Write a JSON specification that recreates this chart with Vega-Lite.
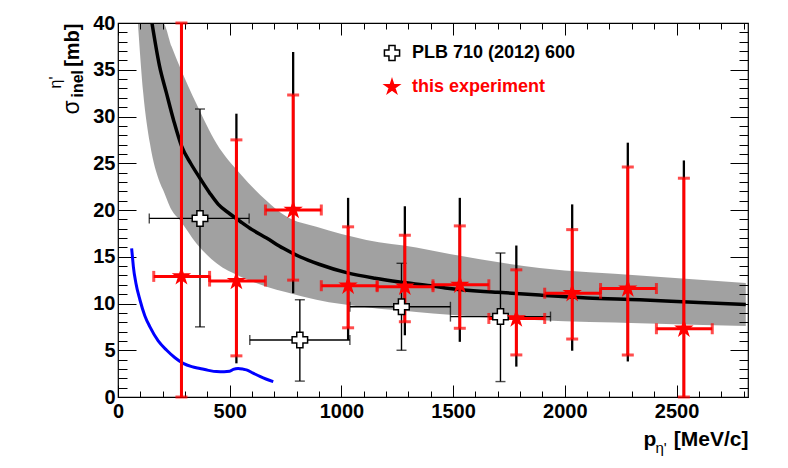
{
  "$schema": "https://vega.github.io/schema/vega-lite/v6.json",
  "width": 630,
  "height": 374,
  "autosize": {"type": "none"},
  "padding": {"left": 118, "top": 23, "right": 40, "bottom": 71},
  "background": "white",
  "config": {
    "view": {"stroke": "#000000", "strokeWidth": 1.2},
    "font": "Liberation Sans",
    "axis": {"grid": false, "domain": false, "labelFont": "Liberation Sans", "titleFont": "Liberation Sans", "tickColor": "#000000", "labelColor": "#000000", "titleColor": "#000000", "tickWidth": 1}
  },
  "datasets": {
    "band": [
      {"p": 89, "lo": 40, "hi": 40},
      {"p": 113, "lo": 32.5, "hi": 40},
      {"p": 143, "lo": 27.1, "hi": 40},
      {"p": 188, "lo": 22.9, "hi": 40},
      {"p": 201, "lo": 22.2, "hi": 40},
      {"p": 240, "lo": 20.0, "hi": 37.5},
      {"p": 277, "lo": 18.9, "hi": 35.3},
      {"p": 352, "lo": 16.4, "hi": 31.3},
      {"p": 441, "lo": 14.3, "hi": 27.1},
      {"p": 546, "lo": 12.9, "hi": 23.9},
      {"p": 665, "lo": 11.8, "hi": 21.0},
      {"p": 754, "lo": 11.2, "hi": 19.3},
      {"p": 888, "lo": 10.4, "hi": 18.2},
      {"p": 1112, "lo": 9.6, "hi": 16.8},
      {"p": 1335, "lo": 9.1, "hi": 16.0},
      {"p": 1485, "lo": 8.8, "hi": 15.3},
      {"p": 1887, "lo": 8.2, "hi": 13.8},
      {"p": 2335, "lo": 7.9, "hi": 13.0},
      {"p": 2810, "lo": 7.6, "hi": 12.2}
    ],
    "fit": [
      {"p": 152, "s": 40}, {"p": 185, "s": 35.5}, {"p": 217, "s": 32.5}, {"p": 250, "s": 29.5},
      {"p": 285, "s": 26.8}, {"p": 325, "s": 25.0}, {"p": 367, "s": 23.4}, {"p": 411, "s": 21.8},
      {"p": 449, "s": 20.6}, {"p": 500, "s": 19.6}, {"p": 546, "s": 18.8}, {"p": 600, "s": 17.9},
      {"p": 665, "s": 17.0}, {"p": 740, "s": 15.9}, {"p": 814, "s": 15.0}, {"p": 900, "s": 14.2},
      {"p": 1023, "s": 13.3}, {"p": 1150, "s": 12.7}, {"p": 1261, "s": 12.3}, {"p": 1400, "s": 11.9},
      {"p": 1485, "s": 11.6}, {"p": 1700, "s": 11.2}, {"p": 1887, "s": 10.9}, {"p": 2100, "s": 10.6},
      {"p": 2335, "s": 10.4}, {"p": 2600, "s": 10.1}, {"p": 2810, "s": 9.9}
    ],
    "blue": [
      {"p": 61, "s": 15.9}, {"p": 65, "s": 14.9}, {"p": 69, "s": 13.9}, {"p": 80, "s": 12.2},
      {"p": 98, "s": 10.4}, {"p": 120, "s": 8.7}, {"p": 143, "s": 7.5}, {"p": 180, "s": 6.0},
      {"p": 218, "s": 5.0}, {"p": 255, "s": 4.2}, {"p": 292, "s": 3.6}, {"p": 330, "s": 3.25},
      {"p": 367, "s": 3.05}, {"p": 405, "s": 2.85}, {"p": 441, "s": 2.72}, {"p": 475, "s": 2.7},
      {"p": 500, "s": 2.75}, {"p": 516, "s": 2.95}, {"p": 538, "s": 3.05}, {"p": 560, "s": 2.98},
      {"p": 575, "s": 2.9}, {"p": 605, "s": 2.55}, {"p": 635, "s": 2.2}, {"p": 665, "s": 1.9},
      {"p": 695, "s": 1.65}
    ],
    "pts": [
      {"series": "PLB 710 (2012) 600", "p": 367, "s": 19.1, "xlo": 140, "xhi": 587, "slo": 7.5, "shi": 30.8},
      {"series": "PLB 710 (2012) 600", "p": 814, "s": 6.1, "xlo": 590, "xhi": 1038, "slo": 1.7, "shi": 10.4},
      {"series": "PLB 710 (2012) 600", "p": 1269, "s": 9.65, "xlo": 1038, "xhi": 1488, "slo": 5.0, "shi": 14.3},
      {"series": "PLB 710 (2012) 600", "p": 1712, "s": 8.6, "xlo": 1488, "xhi": 1936, "slo": 1.65, "shi": 15.4},
      {"series": "this experiment", "p": 284, "s": 12.9, "xlo": 160, "xhi": 410, "slo": 0, "shi": 40, "tlo": 0, "thi": 40},
      {"series": "this experiment", "p": 530, "s": 12.4, "xlo": 410, "xhi": 660, "slo": 4.4, "shi": 27.5, "tlo": 3.6, "thi": 30.3},
      {"series": "this experiment", "p": 784, "s": 20.0, "xlo": 660, "xhi": 910, "slo": 12.5, "shi": 32.3, "tlo": 11.1, "thi": 36.9},
      {"series": "this experiment", "p": 1030, "s": 11.9, "xlo": 910, "xhi": 1160, "slo": 7.4, "shi": 18.2, "tlo": 6.1, "thi": 21.3},
      {"series": "this experiment", "p": 1284, "s": 11.8, "xlo": 1160, "xhi": 1410, "slo": 8.05, "shi": 17.3, "tlo": 6.6, "thi": 20.4},
      {"series": "this experiment", "p": 1530, "s": 12.0, "xlo": 1410, "xhi": 1660, "slo": 7.35, "shi": 18.3, "tlo": 5.9, "thi": 21.3},
      {"series": "this experiment", "p": 1783, "s": 8.4, "xlo": 1660, "xhi": 1910, "slo": 4.5, "shi": 13.6, "tlo": 3.25, "thi": 16.2},
      {"series": "this experiment", "p": 2033, "s": 11.1, "xlo": 1910, "xhi": 2160, "slo": 6.2, "shi": 17.9, "tlo": 4.95, "thi": 20.6},
      {"series": "this experiment", "p": 2282, "s": 11.6, "xlo": 2160, "xhi": 2410, "slo": 4.5, "shi": 24.6, "tlo": 3.8, "thi": 27.2},
      {"series": "this experiment", "p": 2533, "s": 7.3, "xlo": 2410, "xhi": 2660, "slo": 0, "shi": 23.4, "tlo": 0, "thi": 25.3}
    ]
  },
  "resolve": {"axis": {"x": "independent", "y": "independent"}},
  "layer": [
    {
      "data": {"name": "band"},
      "mark": {"type": "area", "fill": "#000000", "fillOpacity": 0.37, "clip": true, "interpolate": "monotone"},
      "encoding": {
        "x": {"field": "p", "type": "quantitative", "scale": {"domain": [0, 2820], "nice": false, "zero": false},
          "axis": {"orient": "bottom", "values": [0, 500, 1000, 1500, 2000, 2500], "format": "d", "ticks": false, "labelFontSize": 20, "labelFontWeight": "bold", "labelPadding": 4, "labelOverlap": false, "labelFlush": false, "labelBound": false,
            "title": "p", "titleFontSize": 21, "titleFontWeight": "bold", "titleAlign": "left", "titleBaseline": "alphabetic", "titleX": 525, "titleY": 48}},
        "y": {"field": "lo", "type": "quantitative", "scale": {"domain": [0, 40], "nice": false, "zero": false},
          "axis": {"orient": "left", "values": [0, 5, 10, 15, 20, 25, 30, 35, 40], "format": "d", "ticks": false, "labelFontSize": 20, "labelFontWeight": "bold", "labelPadding": 3, "labelOverlap": false, "labelFlush": false, "labelBound": false,
            "title": "σ", "titleFontSize": 23, "titleFontWeight": "normal", "titleAlign": "left", "titleBaseline": "alphabetic", "titleAngle": -90, "titleX": -40, "titleY": 91}},
        "y2": {"field": "hi"}
      }
    },
    {
      "data": {"name": "blue"},
      "mark": {"type": "line", "color": "#0000ff", "strokeWidth": 3, "interpolate": "monotone"},
      "encoding": {
        "x": {"field": "p", "type": "quantitative", "scale": {"domain": [0, 2820], "nice": false, "zero": false},
          "axis": {"orient": "bottom", "values": [0, 100, 200, 300, 400, 500, 600, 700, 800, 900, 1000, 1100, 1200, 1300, 1400, 1500, 1600, 1700, 1800, 1900, 2000, 2100, 2200, 2300, 2400, 2500, 2600, 2700, 2800], "labels": false, "title": null,
            "tickSize": {"condition": {"test": "datum.value % 500 === 0", "value": -12}, "value": -6}}},
        "y": {"field": "s", "type": "quantitative", "scale": {"domain": [0, 40], "nice": false, "zero": false},
          "axis": {"orient": "left", "values": [0, 1, 2, 3, 4, 5, 6, 7, 8, 9, 10, 11, 12, 13, 14, 15, 16, 17, 18, 19, 20, 21, 22, 23, 24, 25, 26, 27, 28, 29, 30, 31, 32, 33, 34, 35, 36, 37, 38, 39, 40], "labels": false, "title": null,
            "tickSize": {"condition": {"test": "datum.value % 5 === 0", "value": -18}, "value": -9}}}
      }
    },
    {
      "data": {"name": "pts"},
      "transform": [{"filter": "datum.series === 'this experiment'"}],
      "mark": {"type": "rule", "color": "#000000", "strokeWidth": 2.3},
      "encoding": {
        "x": {"field": "p", "type": "quantitative", "scale": {"domain": [0, 2820], "nice": false, "zero": false},
          "axis": {"orient": "top", "values": [0, 100, 200, 300, 400, 500, 600, 700, 800, 900, 1000, 1100, 1200, 1300, 1400, 1500, 1600, 1700, 1800, 1900, 2000, 2100, 2200, 2300, 2400, 2500, 2600, 2700, 2800], "labels": false, "title": null,
            "tickSize": {"condition": {"test": "datum.value % 500 === 0", "value": -12}, "value": -6}}},
        "y": {"field": "tlo", "type": "quantitative", "scale": {"domain": [0, 40], "nice": false, "zero": false},
          "axis": {"orient": "right", "values": [0, 1, 2, 3, 4, 5, 6, 7, 8, 9, 10, 11, 12, 13, 14, 15, 16, 17, 18, 19, 20, 21, 22, 23, 24, 25, 26, 27, 28, 29, 30, 31, 32, 33, 34, 35, 36, 37, 38, 39, 40], "labels": false, "title": null,
            "tickSize": {"condition": {"test": "datum.value % 5 === 0", "value": -18}, "value": -9}}},
        "y2": {"field": "thi"}
      }
    },
    {
      "data": {"name": "pts"},
      "transform": [{"filter": "datum.series !== 'this experiment'"}],
      "mark": {"type": "rule", "color": "#000000", "strokeWidth": 1.4},
      "encoding": {
        "x": {"field": "p", "type": "quantitative", "scale": {"domain": [0, 2820], "nice": false, "zero": false},
          "axis": {"orient": "bottom", "ticks": false, "labels": false,
            "title": "η'", "titleFontSize": 15, "titleFontWeight": "normal", "titleAlign": "left", "titleBaseline": "alphabetic", "titleX": 537, "titleY": 55}},
        "y": {"field": "slo", "type": "quantitative", "scale": {"domain": [0, 40], "nice": false, "zero": false},
          "axis": {"orient": "left", "ticks": false, "labels": false,
            "title": "inel", "titleFontSize": 16, "titleFontWeight": "bold", "titleAlign": "left", "titleBaseline": "alphabetic", "titleAngle": -90, "titleX": -36, "titleY": 74}},
        "y2": {"field": "shi"}
      }
    },
    {
      "data": {"name": "pts"},
      "transform": [{"filter": "datum.series !== 'this experiment'"}],
      "mark": {"type": "rule", "color": "#000000", "strokeWidth": 1.4},
      "encoding": {
        "x": {"field": "xlo", "type": "quantitative", "scale": {"domain": [0, 2820], "nice": false, "zero": false},
          "axis": {"orient": "bottom", "ticks": false, "labels": false,
            "title": "[MeV/c]", "titleFontSize": 21, "titleFontWeight": "bold", "titleAlign": "right", "titleBaseline": "alphabetic", "titleX": 630, "titleY": 48}},
        "x2": {"field": "xhi"},
        "y": {"field": "s", "type": "quantitative", "scale": {"domain": [0, 40], "nice": false, "zero": false},
          "axis": {"orient": "left", "ticks": false, "labels": false,
            "title": "η'", "titleFontSize": 16, "titleFontWeight": "normal", "titleAlign": "left", "titleBaseline": "alphabetic", "titleAngle": -90, "titleX": -58, "titleY": 65}}
      }
    },
    {
      "data": {"name": "pts"},
      "transform": [{"filter": "datum.series !== 'this experiment'"}, {"fold": ["slo", "shi"], "as": ["end", "v"]}],
      "mark": {"type": "tick", "orient": "horizontal", "color": "#000000", "size": 10, "thickness": 1.4},
      "encoding": {
        "x": {"field": "p", "type": "quantitative", "scale": {"domain": [0, 2820], "nice": false, "zero": false}, "axis": null},
        "y": {"field": "v", "type": "quantitative", "scale": {"domain": [0, 40], "nice": false, "zero": false},
          "axis": {"orient": "left", "ticks": false, "labels": false,
            "title": "[mb]", "titleFontSize": 20, "titleFontWeight": "bold", "titleAlign": "right", "titleBaseline": "alphabetic", "titleAngle": -90, "titleX": -40, "titleY": 0}}
      }
    },
    {
      "data": {"name": "pts"},
      "transform": [{"filter": "datum.series !== 'this experiment'"}, {"fold": ["xlo", "xhi"], "as": ["end", "v"]}],
      "mark": {"type": "tick", "orient": "vertical", "color": "#000000", "size": 10, "thickness": 1.4},
      "encoding": {
        "x": {"field": "v", "type": "quantitative", "scale": {"domain": [0, 2820], "nice": false, "zero": false}, "axis": null},
        "y": {"field": "s", "type": "quantitative", "scale": {"domain": [0, 40], "nice": false, "zero": false}, "axis": null}
      }
    },
    {
      "data": {"name": "fit"},
      "mark": {"type": "line", "color": "#000000", "strokeWidth": 3.5, "clip": true, "interpolate": "monotone"},
      "encoding": {
        "x": {"field": "p", "type": "quantitative", "scale": {"domain": [0, 2820], "nice": false, "zero": false}, "axis": null},
        "y": {"field": "s", "type": "quantitative", "scale": {"domain": [0, 40], "nice": false, "zero": false}, "axis": null}
      }
    },
    {
      "data": {"name": "pts"},
      "transform": [{"filter": "datum.series === 'this experiment'"}],
      "mark": {"type": "rule", "color": "#ff0000", "strokeWidth": 3},
      "encoding": {
        "x": {"field": "p", "type": "quantitative", "scale": {"domain": [0, 2820], "nice": false, "zero": false}, "axis": null},
        "y": {"field": "slo", "type": "quantitative", "scale": {"domain": [0, 40], "nice": false, "zero": false}, "axis": null},
        "y2": {"field": "shi"}
      }
    },
    {
      "data": {"name": "pts"},
      "transform": [{"filter": "datum.series === 'this experiment'"}],
      "mark": {"type": "rule", "color": "#ff0000", "strokeWidth": 3},
      "encoding": {
        "x": {"field": "xlo", "type": "quantitative", "scale": {"domain": [0, 2820], "nice": false, "zero": false}, "axis": null},
        "x2": {"field": "xhi"},
        "y": {"field": "s", "type": "quantitative", "scale": {"domain": [0, 40], "nice": false, "zero": false}, "axis": null}
      }
    },
    {
      "data": {"name": "pts"},
      "transform": [{"filter": "datum.series === 'this experiment'"}, {"fold": ["slo", "shi"], "as": ["end", "v"]}],
      "mark": {"type": "tick", "orient": "horizontal", "color": "#ff0000", "size": 12, "thickness": 3},
      "encoding": {
        "x": {"field": "p", "type": "quantitative", "scale": {"domain": [0, 2820], "nice": false, "zero": false}, "axis": null},
        "y": {"field": "v", "type": "quantitative", "scale": {"domain": [0, 40], "nice": false, "zero": false}, "axis": null}
      }
    },
    {
      "data": {"name": "pts"},
      "transform": [{"filter": "datum.series === 'this experiment'"}, {"fold": ["xlo", "xhi"], "as": ["end", "v"]}],
      "mark": {"type": "tick", "orient": "vertical", "color": "#ff0000", "size": 11, "thickness": 3},
      "encoding": {
        "x": {"field": "v", "type": "quantitative", "scale": {"domain": [0, 2820], "nice": false, "zero": false}, "axis": null},
        "y": {"field": "s", "type": "quantitative", "scale": {"domain": [0, 40], "nice": false, "zero": false}, "axis": null}
      }
    },
    {
      "data": {"name": "pts"},
      "mark": {"type": "point", "size": 240, "strokeWidth": 1.5, "opacity": 1},
      "encoding": {
        "x": {"field": "p", "type": "quantitative", "scale": {"domain": [0, 2820], "nice": false, "zero": false}, "axis": null},
        "y": {"field": "s", "type": "quantitative", "scale": {"domain": [0, 40], "nice": false, "zero": false}, "axis": null},
        "shape": {"field": "series", "type": "nominal", "scale": {"domain": ["PLB 710 (2012) 600", "this experiment"], "range": ["cross", "M0,-1L0.2245,-0.309L0.951,-0.309L0.363,0.118L0.588,0.809L0,0.382L-0.588,0.809L-0.363,0.118L-0.951,-0.309L-0.2245,-0.309Z"]},
          "legend": {"orient": "none", "legendX": 265, "legendY": 21, "title": null, "padding": 0, "labelFont": "Liberation Sans", "labelFontWeight": "bold", "labelFontSize": 18, "labelLimit": 400, "labelOffset": 11, "rowPadding": 12, "symbolSize": 230, "symbolStrokeWidth": 1.5,
            "labelColor": {"expr": "datum.value === 'this experiment' ? '#ff0000' : '#000000'"}}},
        "fill": {"field": "series", "type": "nominal", "scale": {"domain": ["PLB 710 (2012) 600", "this experiment"], "range": ["#ffffff", "#ff0000"]}},
        "stroke": {"field": "series", "type": "nominal", "scale": {"domain": ["PLB 710 (2012) 600", "this experiment"], "range": ["#000000", "#ff0000"]}}
      }
    }
  ]
}
